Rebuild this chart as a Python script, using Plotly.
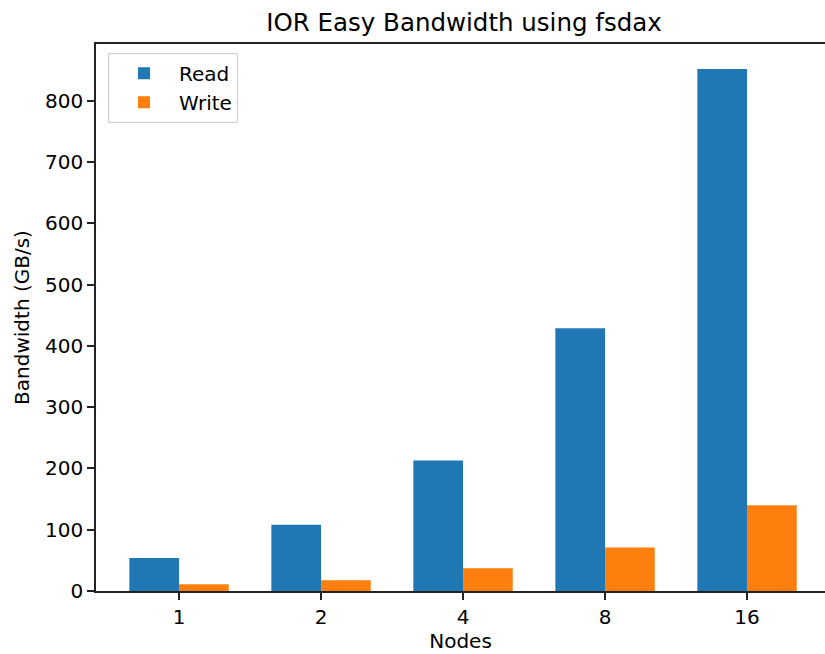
import plotly.graph_objects as go

nodes = ["1", "2", "4", "8", "16"]
read_bw = [54, 108, 213, 429, 852]
write_bw = [11, 17.5, 37, 71, 140]

FONT = "DejaVu Sans"

fig = go.Figure()
fig.add_trace(go.Bar(name="Read", x=nodes, y=read_bw, marker=dict(color="#1f77b4", line=dict(width=0))))
fig.add_trace(go.Bar(name="Write", x=nodes, y=write_bw, marker=dict(color="#ff7f0e", line=dict(width=0))))

fig.update_layout(
    width=825, height=654,
    margin=dict(l=96, r=0, t=44, b=63),
    paper_bgcolor="white", plot_bgcolor="white",
    barmode="group", bargap=0.3, bargroupgap=0,
    font=dict(family=FONT, size=20, color="#000"),
    title=dict(text="IOR Easy Bandwidth using fsdax", font=dict(size=24.5, color="#000"),
               x=(464 - 96) / 729, xref="paper", xanchor="center",
               y=1 - 22 / 654, yref="container", yanchor="middle"),
    showlegend=True,
    legend=dict(x=0.0165, y=0.984, xanchor="left", yanchor="top",
                bordercolor="#cccccc", borderwidth=1, bgcolor="rgba(255,255,255,0.8)",
                font=dict(size=20), itemwidth=60, tracegroupgap=2),
    xaxis=dict(type="category", range=[-0.585, 4.549], showgrid=False, zeroline=False,
               showline=True, linecolor="#222", linewidth=1.5, mirror=True,
               ticks="outside", ticklen=7, tickwidth=1.5, tickcolor="#222",
               title=dict(text="Nodes", standoff=6, font=dict(size=20))),
    yaxis=dict(range=[0, 893], showgrid=False, zeroline=False,
               showline=True, linecolor="#222", linewidth=1.5, mirror=False,
               ticks="outside", ticklen=7, tickwidth=1.5, tickcolor="#222",
               tickvals=[0, 100, 200, 300, 400, 500, 600, 700, 800],
               title=dict(text="Bandwidth (GB/s)", standoff=10, font=dict(size=20))),
)

fig.write_html("out.html")
